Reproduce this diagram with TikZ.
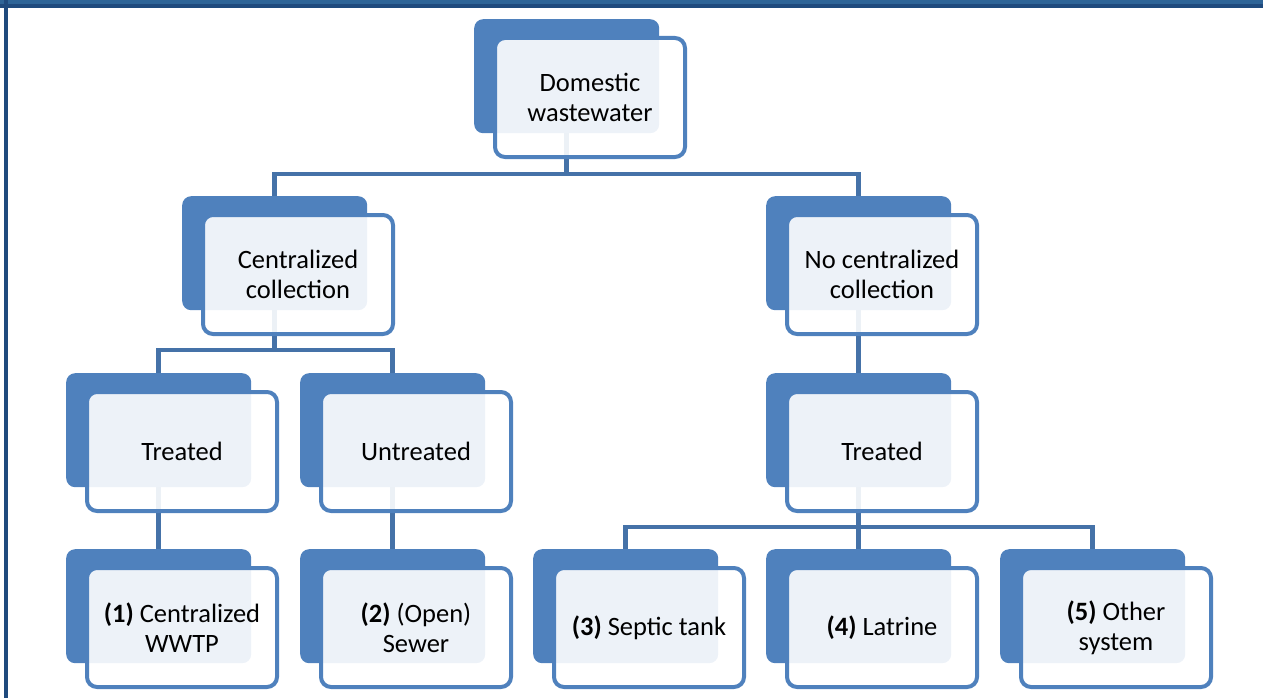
\documentclass[tikz,border=0pt]{standalone}
\usepackage{fontspec}
\setmainfont{Carlito}
\usetikzlibrary{backgrounds}
\definecolor{nodeblue}{HTML}{4F81BD}
\definecolor{connblue}{HTML}{4572A8}
\definecolor{bardark}{HTML}{1F4A7D}
\definecolor{barlight}{HTML}{2E6497}
\tikzset{
  backbox/.style={fill=nodeblue, draw=none, rounded corners=9pt, anchor=north west,
    minimum width=185pt, minimum height=114pt, inner sep=0pt},
  frontbox/.style={draw=nodeblue, line width=4pt, fill=white, fill opacity=0.9, text opacity=1,
    rounded corners=10pt, anchor=north west, minimum width=190pt, minimum height=119pt,
    align=center, inner sep=0pt, font=\fontsize{26.5pt}{30pt}\selectfont},
  conn/.style={draw=connblue, line width=4.5pt}
}
\begin{document}
\begin{tikzpicture}[x=1pt,y=1pt]
\useasboundingbox (0,0) rectangle (1263,-698);
% page frame
\fill[barlight] (0,0) rectangle (1263,-4.5);
\fill[bardark] (0,-4.5) rectangle (1263,-8.5);
\fill[bardark] (3.5,0) rectangle (8,-698);

% level 0
\node[backbox] (topb) at (474,-19) {};
\node[frontbox] (top) at (493,-36) {Domestic\\wastewater};
% level 1
\node[backbox] (ccb) at (182,-196) {};
\node[frontbox] (cc) at (201,-213) {Centralized\\collection};
\node[backbox] (ncb) at (766,-196) {};
\node[frontbox] (nc) at (785,-213) {No centralized\\collection};
% level 2
\node[backbox] (tlb) at (66,-373) {};
\node[frontbox] (tl) at (85,-390) {Treated};
\node[backbox] (utb) at (300,-373) {};
\node[frontbox] (ut) at (319,-390) {Untreated};
\node[backbox] (trb) at (766,-373) {};
\node[frontbox] (tr) at (785,-390) {Treated};
% level 3
\node[backbox] (b1b) at (66,-549) {};
\node[frontbox] (b1) at (85,-566) {\textbf{(1)} Centralized\\WWTP};
\node[backbox] (b2b) at (300,-549) {};
\node[frontbox] (b2) at (319,-566) {\textbf{(2)} (Open)\\Sewer};
\node[backbox] (b3b) at (533,-549) {};
\node[frontbox] (b3) at (552,-566) {\textbf{(3)} Septic tank};
\node[backbox] (b4b) at (766,-549) {};
\node[frontbox] (b4) at (785,-566) {\textbf{(4)} Latrine};
\node[backbox] (b5b) at (1000,-549) {};
\node[frontbox] (b5) at (1019,-566) {\textbf{(5)} Other\\system};

\coordinate (j1) at (0,-174);
\coordinate (j2) at (0,-350);
\coordinate (j3) at (0,-527);
\begin{scope}[on background layer]
  \draw[conn] (topb.center) -- (topb.center |- j1);
  \draw[conn] (ccb.north) |- (ncb.north |- j1) -- (ncb.north);
  \draw[conn] (ccb.center) -- (ccb.center |- j2);
  \draw[conn] (tlb.north) |- (utb.north |- j2) -- (utb.north);
  \draw[conn] (ncb.center) -- (trb.north);
  \draw[conn] (tlb.center) -- (b1b.north);
  \draw[conn] (utb.center) -- (b2b.north);
  \draw[conn] (trb.center) -- (trb.center |- j3);
  \draw[conn] (b3b.north) |- (b5b.north |- j3) -- (b5b.north);
  \draw[conn] (trb.center |- j3) -- (b4b.north);
\end{scope}
\end{tikzpicture}
\end{document}
